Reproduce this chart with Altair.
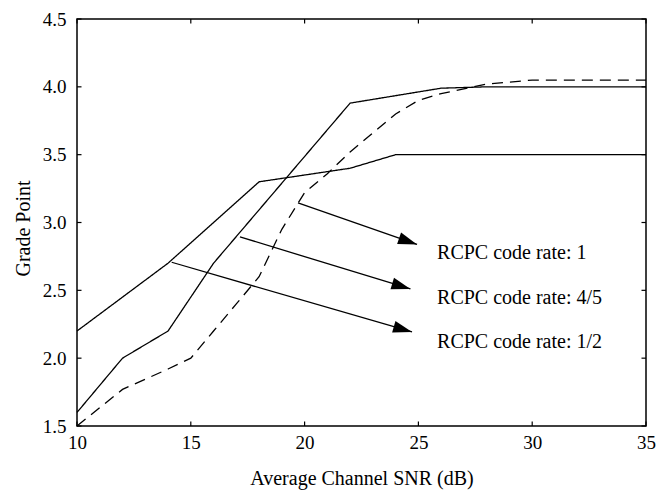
import math
import altair as alt
import pandas as pd

W, H = 569, 407
X_DOMAIN = [10, 35]
Y_DOMAIN = [1.5, 4.5]
FONT = "Liberation Serif"

# RCPC code rate 1 (dashed)
snr_r1 = [10, 12, 14, 15, 16, 17, 18, 19, 20, 21, 22, 23, 24, 25, 26, 28, 30, 35]
gp_r1 = [1.5, 1.77, 1.92, 2.0, 2.2, 2.4, 2.6, 2.95, 3.22, 3.36, 3.52, 3.66, 3.8, 3.9, 3.95, 4.02, 4.05, 4.05]
# RCPC code rate 4/5 (solid)
snr_r45 = [10, 12, 14, 16, 22, 26, 28, 35]
gp_r45 = [1.6, 2.0, 2.2, 2.7, 3.88, 3.99, 4.0, 4.0]
# RCPC code rate 1/2 (solid)
snr_r12 = [10, 14, 18, 22, 24, 35]
gp_r12 = [2.2, 2.7, 3.3, 3.4, 3.5, 3.5]

labels = ["RCPC code rate: 1", "RCPC code rate: 4/5", "RCPC code rate: 1/2"]
label_x = [25.82, 25.82, 25.82]
label_y = [2.73, 2.40, 2.076]
arrow_x0 = [19.71, 17.16, 14.16]
arrow_y0 = [3.144, 2.894, 2.707]
arrow_x1 = [24.94, 24.65, 24.72]
arrow_y1 = [2.838, 2.510, 2.193]

x_ticks = [10, 15, 20, 25, 30, 35]
y_ticks = [1.5, 2.0, 2.5, 3.0, 3.5, 4.0, 4.5]

series_names = ["rate 1", "rate 4/5", "rate 1/2"]
rows = []
for name, xs_, ys_ in [("rate 1", snr_r1, gp_r1), ("rate 4/5", snr_r45, gp_r45), ("rate 1/2", snr_r12, gp_r12)]:
    for i, (a, b) in enumerate(zip(xs_, ys_)):
        rows.append({"series": name, "snr": a, "gp": b, "order": i})
lines_df = pd.DataFrame(rows)

px_per_x = W / (X_DOMAIN[1] - X_DOMAIN[0])
px_per_y = H / (Y_DOMAIN[1] - Y_DOMAIN[0])
angles = [
    math.degrees(math.atan2(-(y1 - y0) * px_per_y, (x1 - x0) * px_per_x))
    for x0, y0, x1, y1 in zip(arrow_x0, arrow_y0, arrow_x1, arrow_y1)
]
arrows_df = pd.DataFrame({"x0": arrow_x0, "y0": arrow_y0, "x1": arrow_x1, "y1": arrow_y1, "angle": angles})
labels_df = pd.DataFrame({"label": labels, "x": label_x, "y": label_y})
xt_df = pd.DataFrame({"t": x_ticks})
yt_df = pd.DataFrame({"t": y_ticks})

xs = alt.Scale(domain=X_DOMAIN, nice=False, zero=False)
ys = alt.Scale(domain=Y_DOMAIN, nice=False, zero=False)

x_axis = alt.Axis(
    values=x_ticks, format="d", title="Average Channel SNR (dB)",
    domain=False, ticks=False, grid=False, labelFlush=False,
    labelFont=FONT, labelFontSize=19, labelColor="black", labelPadding=7,
    titleFont=FONT, titleFontSize=20, titleFontWeight="normal", titleColor="black",
    titleBaseline="alphabetic", titleY=58,
)
y_axis = alt.Axis(
    values=y_ticks, format=".1f", title="Grade Point",
    domain=False, ticks=False, grid=False, labelFlush=False,
    labelFont=FONT, labelFontSize=19, labelColor="black", labelPadding=11,
    titleFont=FONT, titleFontSize=20, titleFontWeight="normal", titleColor="black",
    titleBaseline="alphabetic", titleX=-48, titleY=209,
)


def X(field):
    return alt.X(field, scale=xs, axis=x_axis)


def Y(field):
    return alt.Y(field, scale=ys, axis=y_axis)


lines = alt.Chart(lines_df).mark_line(color="black", strokeWidth=1.3).encode(
    x=X("snr:Q"),
    y=Y("gp:Q"),
    strokeDash=alt.StrokeDash("series:N", scale=alt.Scale(domain=series_names, range=[[11, 7], [1, 0], [1, 0]]), legend=None),
    detail="series:N",
    order="order:Q",
)

shafts = alt.Chart(arrows_df).mark_rule(color="black", strokeWidth=1.3).encode(
    x=X("x0:Q"), y=Y("y0:Q"), x2="x1:Q", y2="y1:Q",
)

heads = alt.Chart(arrows_df).mark_point(
    shape="M0,0L-1.9,-0.6L-1.9,0.6Z", filled=True, size=400, color="black", opacity=1
).encode(
    x=X("x1:Q"), y=Y("y1:Q"),
    angle=alt.Angle("angle:Q", scale=None),
)

texts = alt.Chart(labels_df).mark_text(
    align="left", baseline="alphabetic", font=FONT, fontSize=20, color="black"
).encode(
    x=X("x:Q"), y=Y("y:Q"), text="label:N",
)

TL = 4.5
tick_bottom = alt.Chart(xt_df).mark_rule(color="black", strokeWidth=1.2).encode(
    x=X("t:Q"), y=alt.value(H), y2=alt.value(H - TL))
tick_top = alt.Chart(xt_df).mark_rule(color="black", strokeWidth=1.2).encode(
    x=X("t:Q"), y=alt.value(0), y2=alt.value(TL))
tick_left = alt.Chart(yt_df).mark_rule(color="black", strokeWidth=1.2).encode(
    y=Y("t:Q"), x=alt.value(0), x2=alt.value(TL))
tick_right = alt.Chart(yt_df).mark_rule(color="black", strokeWidth=1.2).encode(
    y=Y("t:Q"), x=alt.value(W), x2=alt.value(W - TL))

chart = alt.layer(
    lines, shafts, heads, texts, tick_bottom, tick_top, tick_left, tick_right
).properties(
    width=W, height=H,
    padding={"left": 77, "top": 19, "right": 13, "bottom": 65},
    autosize=alt.AutoSizeParams(type="none"),
    background="white",
).configure_view(stroke="black", strokeWidth=1.5)

chart.save("out.html", embed_options={"renderer": "svg", "actions": False})
